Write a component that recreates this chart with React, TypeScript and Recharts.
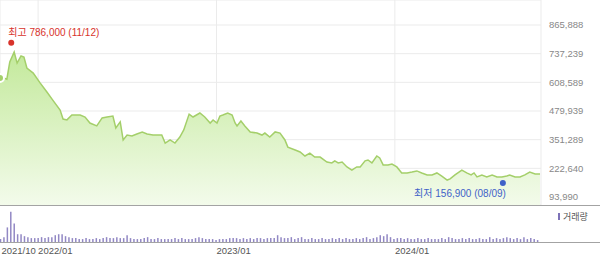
import React from "react";
import {
  AreaChart, Area, BarChart, Bar,
  XAxis, YAxis, CartesianGrid, ReferenceDot,
} from "recharts";

// days counted from 2021-10-15
const priceDays = [0, 8, 14, 20, 29, 35, 43, 49, 55, 68, 82, 96, 108, 123, 129, 137, 147, 164, 174, 184, 198, 209, 219, 231, 237, 246, 252, 260, 270, 280, 291, 301, 313, 331, 338, 348, 358, 368, 376, 387, 395, 409, 419, 430, 436, 444, 450, 456, 466, 475, 481, 485, 493, 501, 512, 526, 536, 542, 552, 563, 573, 583, 589, 604, 614, 624, 634, 644, 655, 669, 679, 685, 692, 700, 710, 720, 730, 737, 747, 753, 761, 771, 777, 784, 794, 802, 812, 822, 833, 843, 853, 863, 874, 884, 894, 904, 915, 921, 931, 945, 955, 964, 970, 976, 986, 996, 1007, 1017, 1027, 1037, 1043, 1054, 1064, 1074, 1084, 1095, 1105];
const prices = [628000, 628000, 623000, 700000, 745000, 695000, 727000, 722000, 673000, 650000, 606000, 565000, 529000, 484000, 444000, 440000, 462000, 462000, 453000, 426000, 413000, 449000, 453000, 457000, 404000, 431000, 350000, 372000, 368000, 377000, 386000, 377000, 372000, 372000, 336000, 350000, 336000, 363000, 395000, 466000, 453000, 471000, 453000, 426000, 440000, 426000, 457000, 462000, 471000, 462000, 426000, 413000, 435000, 413000, 386000, 381000, 372000, 381000, 363000, 386000, 381000, 350000, 318000, 305000, 296000, 278000, 291000, 273000, 273000, 251000, 247000, 256000, 247000, 251000, 229000, 215000, 229000, 229000, 256000, 260000, 247000, 278000, 269000, 238000, 238000, 242000, 229000, 202000, 202000, 206000, 211000, 202000, 193000, 193000, 202000, 188000, 170000, 175000, 193000, 215000, 202000, 193000, 202000, 184000, 193000, 184000, 193000, 184000, 184000, 188000, 193000, 184000, 184000, 193000, 206000, 197000, 197000];

// weekly volume (thousand shares)
const volumes = [
  75, 125, 375, 775, 475, 200, 200, 150, 125, 100,
  100, 100, 125, 100, 125, 125, 175, 200, 200, 150,
  125, 100, 100, 75, 75, 100, 75, 75, 100, 75,
  100, 125, 100, 100, 125, 100, 100, 175, 100, 75,
  75, 75, 100, 125, 75, 75, 100, 75, 75, 75,
  75, 100, 75, 100, 75, 75, 75, 100, 125, 100,
  75, 75, 75, 50, 75, 75, 75, 100, 100, 100,
  75, 100, 75, 100, 75, 100, 100, 75, 100, 100,
  100, 175, 125, 100, 100, 125, 75, 100, 125, 75,
  75, 100, 75, 75, 100, 75, 75, 100, 75, 100,
  75, 100, 75, 75, 100, 75, 100, 125, 75, 100,
  125, 175, 150, 200, 125, 75, 100, 100, 75, 100,
  75, 75, 100, 75, 75, 100, 75, 75, 75, 100,
  75, 125, 100, 75, 75, 100, 75, 100, 75, 75,
  100, 75, 75, 125, 75, 100, 75, 100, 125, 100,
  75, 100, 75, 125, 75, 100, 75, 50,
];

const yTicks = [93990, 222640, 351289, 479939, 608589, 737239, 865888];
const xTicks = [3, 78, 443, 808];
const xLabels = ["2021/10", "2022/01", "2023/01", "2024/01"];

const high = { day: 23, price: 786000, label: "최고 786,000 (11/12)" };
const low = { day: 1029, price: 156900, label: "최저 156,900 (08/09)" };

const priceData = priceDays.map((d, i) => ({ day: d, price: prices[i] }));
const volData = volumes.map((v, i) => ({ day: i * 7 + 1, vol: v }));

const FONT = "'Liberation Sans', Arial, 'Noto Sans CJK KR', sans-serif";

const HighLabel = (props: any) => {
  const { x, y } = props.viewBox;
  return (
    <text x={x} y={y - 4} fill="#d8332b" fontSize={10} fontFamily={FONT}>
      {high.label}
    </text>
  );
};

const LowLabel = (props: any) => {
  const { x, y, width } = props.viewBox;
  return (
    <text x={x + width} y={y + 17} fill="#3f62c8" fontSize={10} fontFamily={FONT} textAnchor="end">
      {low.label}
    </text>
  );
};

export default function App() {
  return (
    <div style={{ position: "absolute", left: 0, top: 0, width: 600, height: 264, background: "#fff", fontFamily: FONT }}>
      <AreaChart width={600} height={205} data={priceData} margin={{ top: 0, right: 0, left: 0, bottom: 0 }}>
        <defs>
          <linearGradient id="gradPrice" x1="0" y1="0" x2="0" y2="1">
            <stop offset="0%" stopColor="#c3e99b" />
            <stop offset="100%" stopColor="#f3fbeb" />
          </linearGradient>
        </defs>
        <CartesianGrid stroke="#ebebeb" />
        <XAxis dataKey="day" type="number" domain={[0, 1107]} ticks={xTicks.slice(1)} hide />
        <YAxis
          orientation="right" width={59} domain={[58084, 978083]} ticks={yTicks}
          allowDataOverflow axisLine={false} tickLine={false}
          tick={{ fill: "#888", fontSize: 9.5, fontFamily: FONT }}
          tickFormatter={(v: number) => v.toLocaleString("en-US")}
        />
        <Area
          type="linear" dataKey="price" stroke="#a4cf6a" strokeWidth={1.5}
          fill="url(#gradPrice)" fillOpacity={1} isAnimationActive={false} dot={false}
        />
        <ReferenceDot x={high.day} y={high.price} r={3} fill="#d8332b" stroke="none" label={<HighLabel />} />
        <ReferenceDot x={low.day} y={low.price} r={3} fill="#3f62c8" stroke="none" label={<LowLabel />} />
      </AreaChart>
      <div style={{ position: "absolute", left: 0, top: 205, width: 600, height: 1, background: "#a3a3a3" }} />
      <div style={{ position: "absolute", left: 0, top: 242, width: 600, height: 1, background: "#a3a3a3" }} />
      <div style={{ position: "absolute", left: 0, top: 206 }}>
        <BarChart width={600} height={58} data={volData} margin={{ top: 0, right: 59, left: 0, bottom: 0 }}>
          <XAxis
            dataKey="day" type="number" domain={[0, 1107]} ticks={xTicks} height={22}
            interval={0} axisLine={false} tickLine={false} tickSize={3} tickMargin={2}
            tick={{ fill: "#555", fontSize: 9.5, fontFamily: FONT, textAnchor: "start" }}
            tickFormatter={(v: number) => xLabels[xTicks.indexOf(v)]}
          />
          <YAxis hide domain={[0, 925]} />
          <Bar dataKey="vol" fill="#9288c4" barSize={1.5} isAnimationActive={false} />
        </BarChart>
      </div>
      <div style={{ position: "absolute", left: 558, top: 210, fontSize: 9, color: "#555", display: "flex", alignItems: "center" }}>
        <span style={{ display: "inline-block", width: 2, height: 7, background: "#7d72b8", marginRight: 3 }} />
        거래량
      </div>
    </div>
  );
}
